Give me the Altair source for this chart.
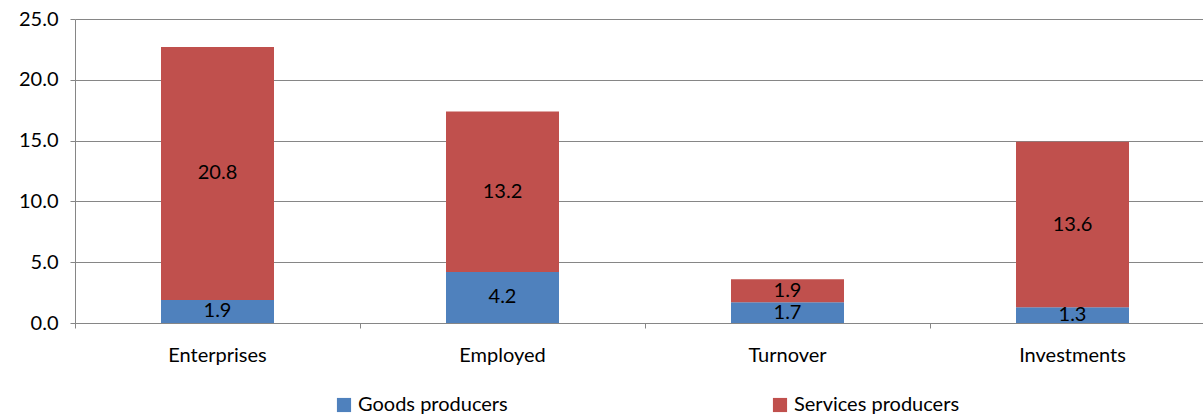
import altair as alt
import pandas as pd

categories = ["Enterprises", "Employed", "Turnover", "Investments"]
goods = [1.9, 4.2, 1.7, 1.3]
services = [20.8, 13.2, 1.9, 13.6]
series_names = ["Goods producers", "Services producers"]
colors = ["#4F81BD", "#C0504D"]

rows = []
for c, g, s in zip(categories, goods, services):
    rows.append({"cat": c, "series": series_names[0], "value": g, "y0": 0.0, "y1": g})
    rows.append({"cat": c, "series": series_names[1], "value": s, "y0": g, "y1": g + s})
df = pd.DataFrame(rows)
df["mid"] = (df["y0"] + df["y1"]) / 2
df["label"] = df["value"].map(lambda v: f"{v:.1f}")

FONT = "Lato"
FS = 20
W, H = 1128, 304
XRANGE = 1140

xscale = alt.Scale(paddingInner=0, paddingOuter=0, range=[0, XRANGE])

x = alt.X("cat:N", sort=categories, title=None, scale=xscale,
          axis=alt.Axis(bandPosition=0, labelAngle=0,
                        tickSize=5, labelPadding=17, domainColor="#868686",
                        tickColor="#868686", tickWidth=1, labelFontSize=FS, labelFont=FONT,
                        labelColor="#000000", grid=False))

bars = alt.Chart(df).mark_bar(size=113).encode(
    x=x,
    y=alt.Y("y0:Q", title=None,
            scale=alt.Scale(domain=[0, 25], nice=False),
            axis=alt.Axis(values=[0, 5, 10, 15, 20, 25], format=".1f",
                          tickSize=5, labelPadding=12, gridColor="#868686",
                          domainColor="#868686", tickColor="#868686",
                          labelFontSize=FS, labelFont=FONT, labelColor="#000000")),
    y2="y1:Q",
    color=alt.Color("series:N", scale=alt.Scale(domain=series_names, range=colors),
                    legend=alt.Legend(title=None, orient="none", direction="horizontal",
                                      legendX=259, legendY=376, symbolType="square",
                                      symbolSize=200, symbolStrokeWidth=0,
                                      labelFontSize=FS, labelFont=FONT, labelLimit=400,
                                      labelColor="#000000", columnPadding=262,
                                      labelOffset=4)),
)

text = alt.Chart(df).mark_text(fontSize=FS, font=FONT, color="#000000").encode(
    x=alt.X("cat:N", sort=categories, scale=xscale),
    y=alt.Y("mid:Q"),
    text="label:N",
)

chart = alt.layer(bars, text).properties(
    width=W, height=H,
    autosize=alt.AutoSizeParams(type="none"),
    padding={"left": 75, "top": 19, "right": 0, "bottom": 92},
).configure_view(stroke=None).configure_axis(gridWidth=1, domainWidth=1)

chart.save("out.html", embed_options={"renderer": "svg", "actions": False})
